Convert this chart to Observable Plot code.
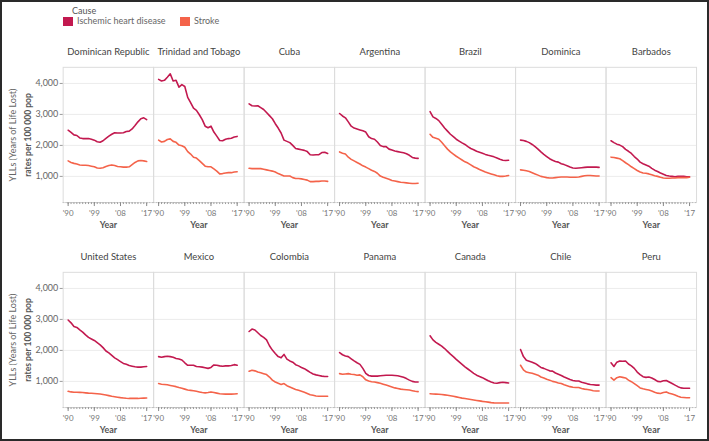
<!DOCTYPE html>
<html>
<head>
<meta charset="utf-8">
<script src="https://cdn.jsdelivr.net/npm/d3@7"></script>
<script src="https://cdn.jsdelivr.net/npm/@observablehq/plot@0.6"></script>
<style>
  html, body { margin: 0; padding: 0; background: #fff; }
  #wrap { position: relative; width: 709px; height: 441px; box-sizing: border-box; border: 2px solid #2a2a2a; overflow: hidden; font-family: Lato, "Open Sans", sans-serif; background:#fff; }
  .abs { position: absolute; white-space: nowrap; }
  .leg { font-size: 9px; color: #555; }
  .sw { position: absolute; width: 10px; height: 9px; }
  .ylab { position: absolute; font-size: 9px; color: #666; transform: translate(-50%, -50%) rotate(-90deg); white-space: nowrap; }
  .ylab2 { font-weight: bold; color: #555; font-size: 8.5px; }
  .row { position: absolute; left: -2px; }
</style>
</head>
<body>
<div id="wrap"></div>
<script>
const years = d3.range(1990, 2018);
const causes = ["Ischemic heart disease", "Stroke"];
const causeColors = ["#c2194f", "#f4634a"];
const yTicks = [1000, 2000, 3000, 4000];
const xTicks = [1990, 1999, 2008, 2017];
const xTickLabels = ["'90", "'99", "'08", "'17"];
const topCountries = ["Dominican Republic", "Trinidad and Tobago", "Cuba", "Argentina", "Brazil", "Dominica", "Barbados"];
const bottomCountries = ["United States", "Mexico", "Colombia", "Panama", "Canada", "Chile", "Peru"];

// Ischemic heart disease, YLL rates per 100 000, 1990-2017
const ihdDominicanRepublic = [2490,2420,2340,2320,2240,2220,2220,2220,2200,2170,2120,2100,2150,2230,2300,2360,2410,2400,2400,2410,2450,2460,2530,2640,2760,2860,2890,2830];
const ihdTrinidad = [4130,4080,4100,4200,4310,4080,4100,3880,3960,3900,3550,3380,3200,3130,2990,2830,2620,2570,2620,2430,2300,2160,2150,2200,2220,2230,2270,2290];
const ihdCuba = [3340,3280,3270,3280,3220,3160,3060,2960,2860,2700,2560,2400,2170,2130,2090,2000,1900,1880,1860,1840,1800,1700,1690,1700,1700,1770,1780,1740];
const ihdArgentina = [3030,2950,2890,2760,2620,2560,2530,2500,2470,2430,2280,2220,2200,2110,2000,1960,1960,1880,1850,1820,1800,1780,1760,1730,1680,1610,1590,1580];
const ihdBrazil = [3090,2920,2870,2800,2680,2560,2460,2360,2280,2200,2140,2080,2030,1960,1900,1860,1810,1780,1750,1710,1680,1660,1630,1590,1550,1520,1510,1520];
const ihdDominica = [2170,2160,2130,2090,2030,1960,1880,1790,1710,1640,1570,1520,1480,1460,1410,1380,1340,1300,1270,1260,1270,1280,1290,1300,1300,1300,1300,1290];
const ihdBarbados = [2150,2090,2040,2010,1960,1870,1810,1740,1640,1560,1460,1410,1370,1330,1260,1200,1160,1110,1070,1030,1010,1000,990,1000,1000,1000,990,990];
const ihdUnitedStates = [2980,2890,2770,2740,2660,2590,2500,2420,2370,2320,2250,2180,2090,1980,1920,1840,1760,1700,1640,1580,1550,1510,1490,1470,1460,1460,1470,1480];
const ihdMexico = [1800,1780,1800,1810,1800,1780,1740,1720,1690,1600,1520,1520,1520,1480,1470,1460,1440,1420,1450,1530,1520,1500,1490,1500,1500,1510,1540,1520];
const ihdColombia = [2610,2690,2660,2570,2480,2420,2340,2150,2010,1900,1800,1760,1870,1720,1660,1620,1540,1500,1450,1410,1350,1290,1240,1210,1190,1170,1160,1160];
const ihdPanama = [1930,1860,1820,1800,1730,1660,1600,1550,1420,1260,1190,1170,1170,1170,1180,1190,1200,1200,1200,1190,1180,1160,1130,1090,1040,1000,980,980];
const ihdCanada = [2470,2340,2260,2200,2140,2060,1970,1880,1800,1710,1630,1550,1470,1400,1330,1260,1200,1160,1120,1070,1020,980,950,940,960,970,960,950];
const ihdChile = [2030,1800,1680,1650,1620,1580,1520,1450,1420,1380,1340,1330,1270,1230,1190,1140,1100,1060,1030,1010,1010,970,950,920,900,890,880,880];
const ihdPeru = [1600,1480,1620,1660,1650,1660,1560,1500,1420,1300,1220,1150,1130,1140,1110,1060,1000,990,1020,1030,980,930,880,830,790,780,780,780];

// Stroke, YLL rates per 100 000, 1990-2017
const strokeDominicanRepublic = [1500,1450,1420,1400,1370,1360,1360,1350,1330,1310,1270,1260,1280,1320,1350,1370,1350,1320,1310,1300,1300,1310,1380,1450,1500,1510,1500,1480];
const strokeTrinidad = [2170,2110,2130,2190,2210,2130,2100,2010,1990,1940,1800,1720,1620,1590,1510,1420,1330,1310,1310,1240,1170,1080,1090,1110,1120,1120,1140,1150];
const strokeCuba = [1260,1250,1250,1250,1250,1230,1210,1190,1170,1140,1090,1050,1010,1010,1010,960,930,930,920,900,880,830,830,840,840,850,850,840];
const strokeArgentina = [1790,1750,1720,1620,1550,1500,1450,1400,1340,1300,1250,1200,1160,1100,1010,970,940,910,870,850,830,810,800,790,780,770,770,780];
const strokeBrazil = [2360,2260,2230,2200,2100,1990,1880,1790,1720,1650,1590,1530,1470,1430,1370,1310,1270,1220,1180,1140,1110,1080,1050,1020,1000,1000,1010,1030];
const strokeDominica = [1210,1200,1180,1160,1120,1080,1040,1000,980,960,950,950,960,970,980,980,980,970,970,970,980,1000,1020,1030,1030,1020,1010,1010];
const strokeBarbados = [1620,1610,1590,1570,1510,1440,1380,1310,1250,1190,1140,1110,1100,1080,1050,1020,1000,970,950,940,940,950,950,960,960,960,960,970];
const strokeUnitedStates = [680,660,650,650,645,640,630,620,615,610,600,590,575,560,540,520,505,490,475,465,455,450,450,450,450,455,460,465];
const strokeMexico = [930,910,900,890,870,850,830,800,780,750,720,710,700,680,660,640,630,640,660,640,620,600,595,590,590,590,595,600];
const strokeColombia = [1330,1360,1340,1300,1280,1250,1220,1140,1040,980,940,900,930,860,820,780,740,710,680,650,610,570,550,530,520,520,520,520];
const strokePanama = [1250,1230,1240,1250,1230,1220,1200,1210,1150,1050,1010,990,980,960,940,910,880,850,820,790,770,750,740,730,720,700,680,670];
const strokeCanada = [600,595,590,585,575,565,550,535,520,500,480,460,445,430,415,400,385,370,355,345,330,315,305,300,300,300,300,300];
const strokeChile = [1520,1370,1300,1280,1260,1230,1200,1140,1110,1070,1040,1000,980,950,930,890,860,830,810,800,800,770,750,740,720,700,690,690];
const strokePeru = [1120,1040,1120,1150,1130,1110,1040,990,930,860,790,760,740,720,690,650,620,610,640,660,620,590,560,520,490,480,470,470];

const seriesByCountry = {
  "Dominican Republic": [ihdDominicanRepublic, strokeDominicanRepublic],
  "Trinidad and Tobago": [ihdTrinidad, strokeTrinidad],
  "Cuba": [ihdCuba, strokeCuba],
  "Argentina": [ihdArgentina, strokeArgentina],
  "Brazil": [ihdBrazil, strokeBrazil],
  "Dominica": [ihdDominica, strokeDominica],
  "Barbados": [ihdBarbados, strokeBarbados],
  "United States": [ihdUnitedStates, strokeUnitedStates],
  "Mexico": [ihdMexico, strokeMexico],
  "Colombia": [ihdColombia, strokeColombia],
  "Panama": [ihdPanama, strokePanama],
  "Canada": [ihdCanada, strokeCanada],
  "Chile": [ihdChile, strokeChile],
  "Peru": [ihdPeru, strokePeru]
};

function rowsFor(countries) {
  const rows = [];
  for (const c of countries) {
    seriesByCountry[c].forEach((vals, ci) => {
      vals.forEach((v, i) => rows.push({country: c, cause: causes[ci], year: years[i], value: v}));
    });
  }
  return rows;
}

const wrap = document.getElementById("wrap");
const font = "Lato, 'Open Sans', sans-serif";
const commaFmt = d3.format(",");

function makeRow(countries) {
  const rows = rowsFor(countries);
  return Plot.plot({
    width: 709,
    height: 195,
    marginLeft: 62,
    marginRight: 8,
    marginTop: 29,
    marginBottom: 30,
    style: {fontFamily: font, fontSize: "9px", color: "#666", background: "transparent"},
    fx: {domain: countries, padding: 0, label: null},
    x: {domain: [1990, 2017], insetLeft: 5, insetRight: 7},
    y: {domain: [155, 4520]},
    color: {domain: causes, range: causeColors},
    marks: [
      Plot.gridY(yTicks, {stroke: "#ececec", strokeOpacity: 1}),
      Plot.frame({stroke: "#dcdcdc"}),
      Plot.axisFx({anchor: "top", tickSize: 0, tickPadding: 12, label: null, fontSize: 9.5, fill: "#444"}),
      Plot.axisY(yTicks, {tickFormat: d => commaFmt(d), tickSize: 3, tickPadding: 2, label: null, stroke: "#999", fill: "#666"}),
      Plot.axisX(years, {tickSize: 2, tickFormat: () => "", label: null, stroke: "#999"}),
      Plot.axisX(xTicks, {tickSize: 4, tickPadding: 4, fontSize: 8, tickFormat: d => xTickLabels[xTicks.indexOf(d)], label: null, stroke: "#888", fill: "#777"}),
      Plot.ruleY([155], {stroke: "#bbb", strokeDasharray: "1,2"}),
      Plot.text(["Year"], {frameAnchor: "bottom", dy: 26, text: d => d, fontWeight: "bold", fill: "#555", fontSize: 9}),
      Plot.lineY(rows, {x: "year", y: "value", fx: "country", z: "cause", stroke: "cause", strokeWidth: 1.6, curve: "linear"})
    ]
  });
}

const topRow = makeRow(topCountries);
topRow.classList.add("row");
topRow.style.top = "36px";
wrap.appendChild(topRow);

const bottomRow = makeRow(bottomCountries);
bottomRow.classList.add("row");
bottomRow.style.top = "241px";
wrap.appendChild(bottomRow);

// Legend
function addText(txt, x, y, cls, extra) {
  const d = document.createElement("div");
  d.className = "abs " + cls;
  d.textContent = txt;
  d.style.left = x + "px";
  d.style.top = y + "px";
  if (extra) Object.assign(d.style, extra);
  wrap.appendChild(d);
  return d;
}
addText("Cause", 70, 3, "leg", {color: "#555"});
causes.forEach((c, i) => {
  const x = [61, 178][i];
  const sw = document.createElement("div");
  sw.className = "sw";
  sw.style.left = x + "px";
  sw.style.top = "15px";
  sw.style.background = causeColors[i];
  wrap.appendChild(sw);
  addText(c, x + 14, 13, "leg", {color: "#666"});
});

// Y axis titles
[133, 338].forEach(cy => {
  const a = document.createElement("div");
  a.className = "ylab";
  a.textContent = "YLLs (Years of Life Lost)";
  a.style.left = "10px";
  a.style.top = cy + "px";
  wrap.appendChild(a);
  const b = document.createElement("div");
  b.className = "ylab ylab2";
  b.textContent = "rates per 100 000 pop";
  b.style.left = "26px";
  b.style.top = cy + "px";
  wrap.appendChild(b);
});
</script>
</body>
</html>
